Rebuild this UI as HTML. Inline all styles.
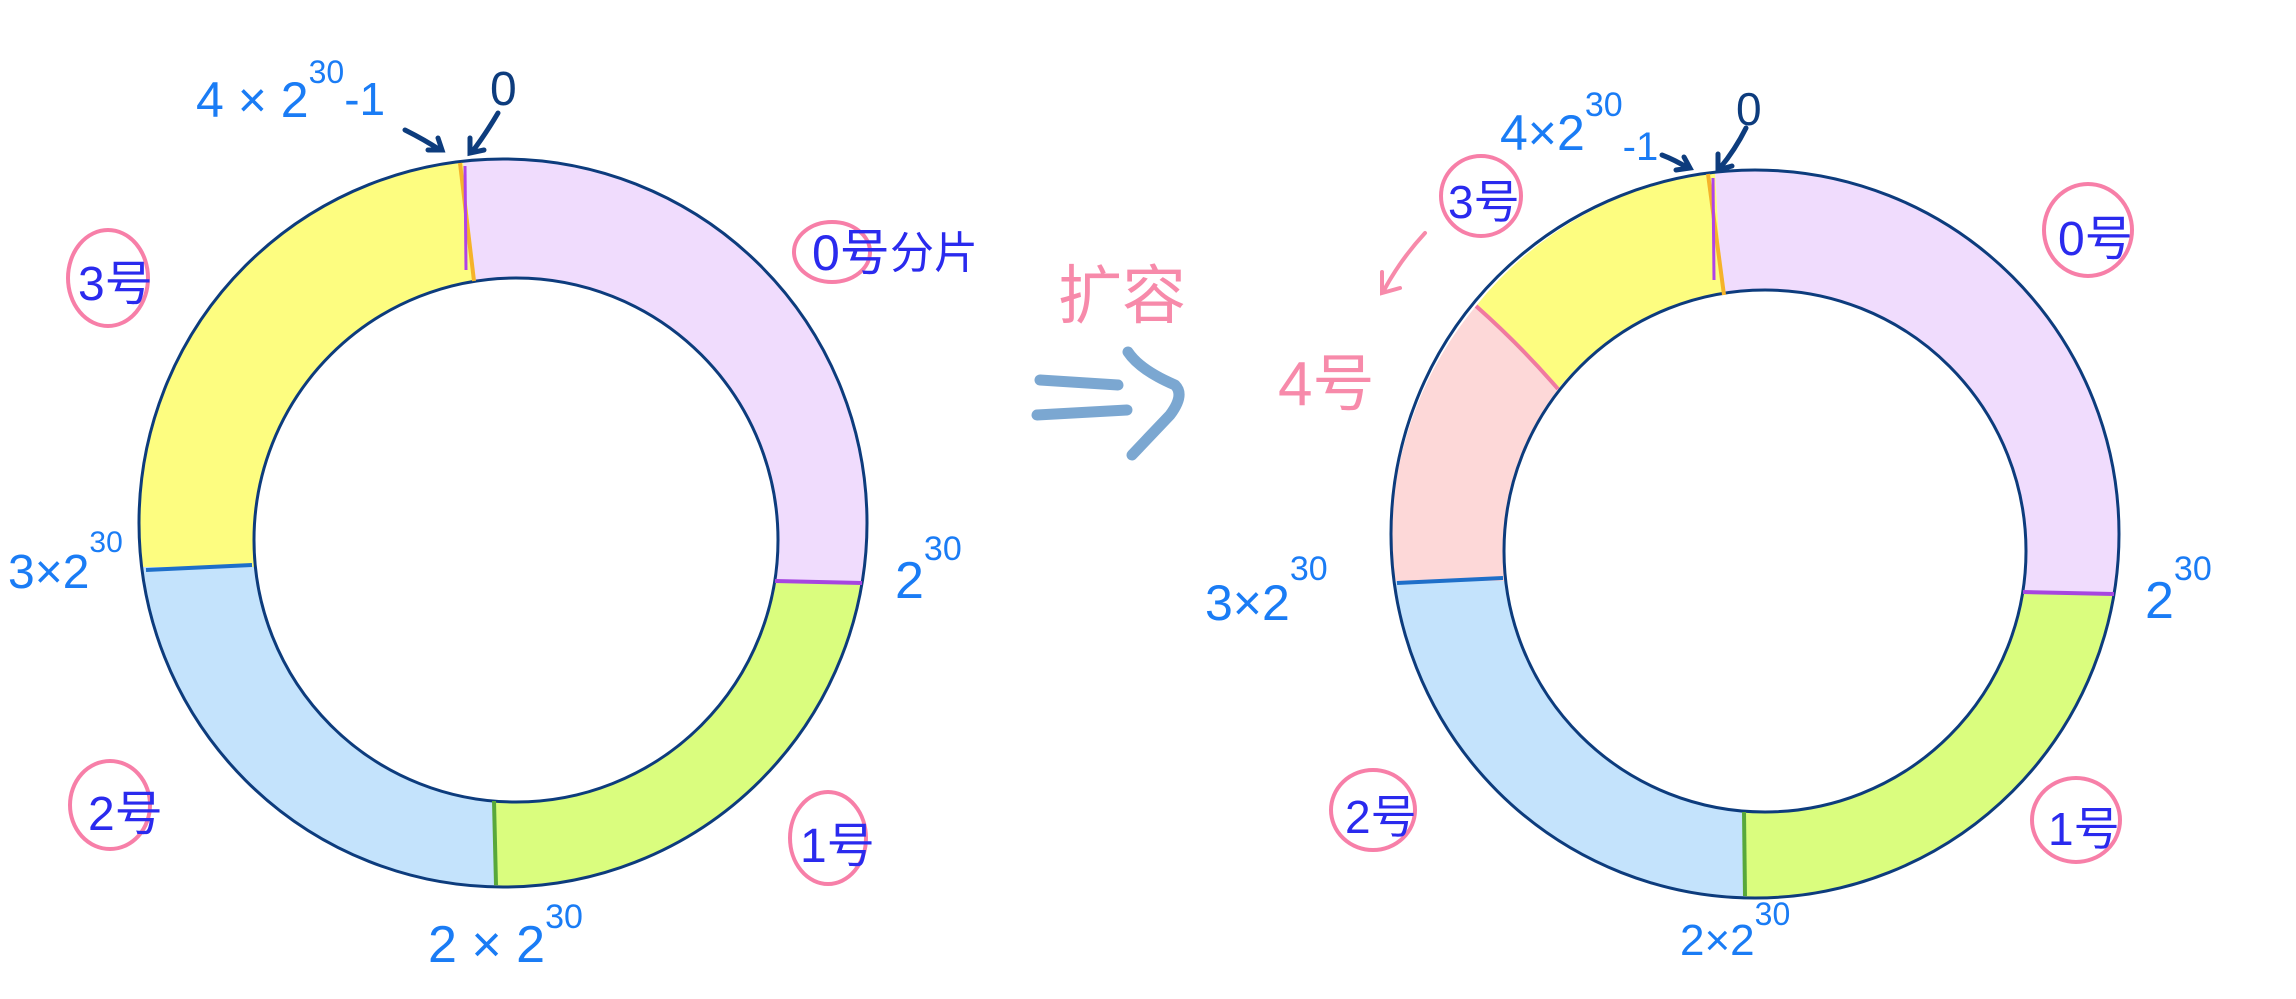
<!DOCTYPE html>
<html><head><meta charset="utf-8"><style>
html,body{margin:0;padding:0;background:#fff;}
svg{display:block;}
text{font-family:"Liberation Sans","Noto Sans CJK SC",sans-serif;}
</style></head><body>
<svg width="2296" height="999" viewBox="0 0 2296 999" xmlns="http://www.w3.org/2000/svg">
<!-- LEFT RING -->
<path d="M463,161 A364,364 0 0 1 862,581 L775,581 A262,262 0 0 0 475,281 Z" fill="#f0dcfd"/>
<path d="M862,581 A364,364 0 0 1 494,887 L494,801 A262,262 0 0 0 775,581 Z" fill="#dafd7e"/>
<path d="M494,887 A364,364 0 0 1 142,567 L255,567 A262,262 0 0 0 494,801 Z" fill="#c4e3fc"/>
<path d="M142,567 A364,364 0 0 1 463,161 L475,281 A262,262 0 0 0 255,567 Z" fill="#fdfd80"/>
<circle cx="503" cy="523" r="364" fill="none" stroke="#0d3c7d" stroke-width="3"/>
<circle cx="516" cy="540" r="262" fill="none" stroke="#0d3c7d" stroke-width="3"/>
<line x1="460" y1="163" x2="474" y2="281" stroke="#f5b32a" stroke-width="4"/>
<line x1="465" y1="166" x2="466" y2="270" stroke="#b043e8" stroke-width="3"/>
<line x1="775" y1="581" x2="862" y2="583" stroke="#a646e0" stroke-width="4"/>
<line x1="494" y1="801" x2="496" y2="885" stroke="#58a83a" stroke-width="4"/>
<line x1="146" y1="570" x2="252" y2="565" stroke="#1e6fc9" stroke-width="4"/>
<!-- left labels -->
<text x="196" y="117" font-size="50" fill="#1a7cf5">4 × 2<tspan dy="-34" font-size="32">30</tspan><tspan dy="32" font-size="46">-1</tspan></text>
<text x="490" y="105" font-size="48" fill="#0d3c7d">0</text>
<path d="M405,130 Q425,140 440,150 M428,150 L442,150 L438,138" stroke="#0d3c7d" stroke-width="5" fill="none" stroke-linecap="round"/>
<path d="M498,113 Q485,135 472,152 M470,138 L470,153 L484,150" stroke="#0d3c7d" stroke-width="5" fill="none" stroke-linecap="round"/>
<ellipse cx="832" cy="252" rx="38" ry="30" fill="none" stroke="#f77fa8" stroke-width="4"/>
<text x="812" y="270" font-size="50" fill="#2a2aee">0号</text>
<text x="890" y="268" font-size="44" fill="#2a2aee">分片</text>
<ellipse cx="108" cy="278" rx="40" ry="48" fill="none" stroke="#f77fa8" stroke-width="4"/>
<text x="78" y="300" font-size="48" fill="#2a2aee">3号</text>
<text x="8" y="588" font-size="48" fill="#1a7cf5">3×2<tspan dy="-36" font-size="30">30</tspan></text>
<text x="895" y="598" font-size="52" fill="#1a7cf5">2<tspan dy="-38" font-size="34">30</tspan></text>
<ellipse cx="110" cy="805" rx="40" ry="44" fill="none" stroke="#f77fa8" stroke-width="4"/>
<text x="88" y="830" font-size="48" fill="#2a2aee">2号</text>
<ellipse cx="828" cy="838" rx="38" ry="46" fill="none" stroke="#f77fa8" stroke-width="4"/>
<text x="800" y="862" font-size="48" fill="#2a2aee">1号</text>
<text x="428" y="962" font-size="52" fill="#1a7cf5">2 × 2<tspan dy="-34" font-size="34">30</tspan></text>
<!-- middle arrow -->
<text x="1058" y="318" font-size="64" fill="#f78aaa">扩容</text>
<path d="M1040,380 L1118,385 M1037,415 L1127,410 M1128,352 Q1140,370 1175,385 Q1185,395 1170,415 L1132,455" stroke="#7ba7d1" stroke-width="11" fill="none" stroke-linecap="round" stroke-linejoin="round"/>
<!-- RIGHT RING -->
<path d="M1715,172 A364,364 0 0 1 2114,592 L2023,592 A261,261 0 0 0 1722,294 Z" fill="#f0dcfd"/>
<path d="M2114,592 A364,364 0 0 1 1745,898 L1745,812 A261,261 0 0 0 2023,592 Z" fill="#dafd7e"/>
<path d="M1745,898 A364,364 0 0 1 1394,581 L1506,581 A261,261 0 0 0 1745,812 Z" fill="#c4e3fc"/>
<path d="M1394,581 A364,364 0 0 1 1476,306 L1558,389 A261,261 0 0 0 1506,581 Z" fill="#fdd8d8"/>
<path d="M1476,306 A364,364 0 0 1 1715,172 L1722,294 A261,261 0 0 0 1558,389 Z" fill="#fdfd80"/>
<circle cx="1755" cy="534" r="364" fill="none" stroke="#0d3c7d" stroke-width="3"/>
<circle cx="1765" cy="551" r="261" fill="none" stroke="#0d3c7d" stroke-width="3"/>
<path d="M1476,306 Q1520,345 1558,389" stroke="#f07aa0" stroke-width="4" fill="none"/>
<line x1="1708" y1="174" x2="1724" y2="295" stroke="#f5b32a" stroke-width="4"/>
<line x1="1713" y1="178" x2="1714" y2="280" stroke="#b043e8" stroke-width="3"/>
<line x1="2023" y1="592" x2="2114" y2="594" stroke="#a646e0" stroke-width="4"/>
<line x1="1744" y1="812" x2="1745" y2="896" stroke="#58a83a" stroke-width="4"/>
<line x1="1397" y1="583" x2="1503" y2="578" stroke="#1e6fc9" stroke-width="4"/>
<!-- right labels -->
<text x="1500" y="150" font-size="50" fill="#1a7cf5">4×2<tspan dy="-34" font-size="34">30</tspan><tspan dy="44" font-size="40">-1</tspan></text>
<text x="1736" y="125" font-size="46" fill="#0d3c7d">0</text>
<path d="M1662,155 Q1675,160 1688,168 M1676,170 L1690,168 L1684,157" stroke="#0d3c7d" stroke-width="5" fill="none" stroke-linecap="round"/>
<path d="M1746,128 Q1735,150 1720,168 M1718,154 L1718,170 L1732,166" stroke="#0d3c7d" stroke-width="5" fill="none" stroke-linecap="round"/>
<ellipse cx="1481" cy="196" rx="40" ry="40" fill="none" stroke="#f77fa8" stroke-width="4"/>
<text x="1448" y="218" font-size="46" fill="#2a2aee">3号</text>
<path d="M1425,233 Q1400,260 1383,292 M1382,272 L1382,293 L1400,288" stroke="#f78aaa" stroke-width="4" fill="none" stroke-linecap="round"/>
<text x="1278" y="405" font-size="62" fill="#f78aaa">4号</text>
<ellipse cx="2088" cy="230" rx="44" ry="46" fill="none" stroke="#f77fa8" stroke-width="4"/>
<text x="2058" y="255" font-size="48" fill="#2a2aee">0号</text>
<text x="2145" y="618" font-size="52" fill="#1a7cf5">2<tspan dy="-38" font-size="34">30</tspan></text>
<text x="1205" y="620" font-size="50" fill="#1a7cf5">3×2<tspan dy="-40" font-size="34">30</tspan></text>
<ellipse cx="1373" cy="810" rx="42" ry="40" fill="none" stroke="#f77fa8" stroke-width="4"/>
<text x="1345" y="833" font-size="46" fill="#2a2aee">2号</text>
<ellipse cx="2076" cy="820" rx="44" ry="42" fill="none" stroke="#f77fa8" stroke-width="4"/>
<text x="2048" y="845" font-size="46" fill="#2a2aee">1号</text>
<text x="1680" y="955" font-size="44" fill="#1a7cf5">2×2<tspan dy="-30" font-size="32">30</tspan></text>
</svg>
</body></html>
